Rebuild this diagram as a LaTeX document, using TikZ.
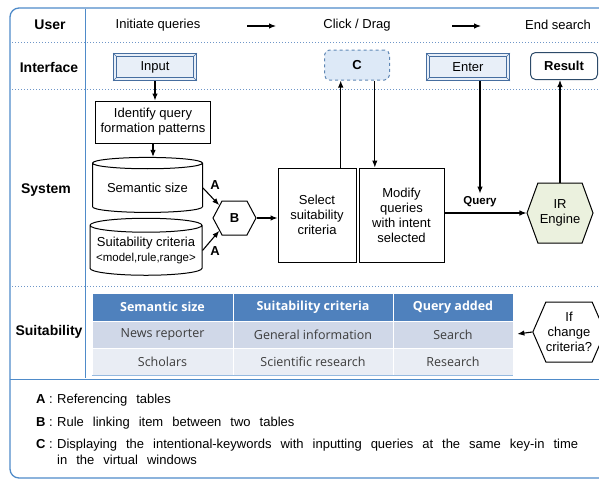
\documentclass[tikz,border=0pt]{standalone}
\usepackage{fontspec}
\setmainfont{Liberation Sans}
\newfontfamily\tabfont{Open Sans}
\usetikzlibrary{shapes.geometric,shapes.symbols,calc,arrows.meta}
\definecolor{frameblue}{RGB}{79,139,201}
\definecolor{dotblue}{RGB}{110,150,200}
\definecolor{boxedge}{RGB}{70,110,160}
\definecolor{boxfill}{RGB}{232,239,248}
\definecolor{cedge}{RGB}{95,135,180}
\definecolor{cfill}{RGB}{221,233,247}
\definecolor{redge}{RGB}{45,75,105}
\definecolor{irfill}{RGB}{235,241,222}
\definecolor{thead}{RGB}{79,129,189}
\definecolor{rowa}{RGB}{208,216,232}
\definecolor{rowb}{RGB}{233,237,244}
\definecolor{celltext}{RGB}{60,60,60}
\newcommand{\notefont}{\fontsize{13}{16.5}\selectfont\spaceskip=9pt plus 3pt minus 1pt\relax}

\begin{document}
\begin{tikzpicture}[x=1pt,y=-1pt,
	every node/.style={inner sep=0pt, font=\fontsize{13}{15}\selectfont},
	rowlabel/.style={font=\fontsize{14}{16}\selectfont\bfseries},
	bold/.style={font=\fontsize{13}{15}\selectfont\bfseries},
	arr/.style={-{Latex[length=7pt,width=5.5pt]}, line width=1.1pt},
	sepline/.style={draw=dotblue, dotted, line width=1pt},
	dbox/.style={draw=boxedge, line width=1pt, fill=boxfill, minimum width=83, minimum height=27},
	pbox/.style={draw, line width=1pt, fill=white, align=center},
	db/.style={cylinder, shape border rotate=90, draw, line width=1pt, fill=white, aspect=0.14, align=center},
	hexa/.style={signal, signal to=east and west, draw, line width=1pt, fill=white, align=center},
	hcell/.style={fill=thead, draw=white, line width=0.8pt, text=white, minimum height=28, font=\tabfont\fontsize{12.5}{14}\selectfont\bfseries},
	cell/.style={draw=white, line width=0.8pt, text=celltext, minimum height=27, font=\tabfont\fontsize{12.5}{14}\selectfont},
	note/.style={font=\notefont}
	]
	\useasboundingbox (0,0) rectangle (599,482);
	\draw[frameblue, line width=1.3pt, rounded corners=9pt] (10,8) rectangle (650,478);
	\draw[frameblue, line width=0.9pt] (85,9) -- (85,378);
	\draw[frameblue, line width=1pt] (10,379) -- (599,379);
	\draw[sepline] (12,42) -- (599,42);
	\draw[sepline] (12,89) -- (599,89);
	\draw[sepline] (12,286) -- (599,286);

	\node[rowlabel] (user) at (50,25) {User};
	\node[rowlabel] (iface) at (49,67) {Interface};
	\node[rowlabel] (sys) at (46,190) {System};
	\node[rowlabel] (suit) at (49,332) {Suitability};

	\node (init) at (158,25) {Initiate queries};
	\node (click) at (357,25) {Click / Drag};
	\node (endsearch) at (558,25) {End search};
	\coordinate (u1) at (247,26);
	\coordinate (u2) at (276,26);
	\coordinate (u3) at (452,26);
	\coordinate (u4) at (481,26);
	\draw[arr] (u1) -- (u2);
	\draw[arr] (u3) -- (u4);

	\node[dbox] (input) at (155,67) {Input};
	\node[bold, draw=cedge, dashed, fill=cfill, line width=1pt, rounded corners=5pt, minimum width=65, minimum height=30] (C) at (357,65) {C};
	\node[dbox] (enter) at (468,67) {Enter};
	\node[bold, draw=redge, line width=1pt, rounded corners=5pt, minimum width=67, minimum height=27] (result) at (564,66) {Result};
	\foreach \b in {input,enter} {
		\draw[boxedge, line width=0.8pt] ([shift={(3.5,3.5)}]\b.north west) rectangle ([shift={(-3.5,-3.5)}]\b.south east);
		\draw[boxedge, line width=0.6pt] (\b.north west) -- ++(3.5,3.5) (\b.north east) -- ++(-3.5,3.5)
			(\b.south west) -- ++(3.5,-3.5) (\b.south east) -- ++(-3.5,-3.5);
	}

	\node[pbox, minimum width=115, minimum height=42] (ident) at (153,122) {Identify query\\formation patterns};
	\node[db, minimum width=110, minimum height=55] (sem) at (147.5,188) {Semantic size};
	\node[db, minimum width=112, minimum height=57] (crit) at (146,250.5) {Suitability criteria\\{\fontsize{11.5}{13}\selectfont<model,rule,range>}};
	\node[hexa, bold, minimum width=43, minimum height=34, signal pointer angle=124] (B) at (234.5,218) {B};
	\node[bold] (a1) at (215,185) {A};
	\node[bold] (a2) at (215,251) {A};
	\node[pbox, minimum width=78, minimum height=94] (select) at (317,215) {Select\\suitability\\criteria};
	\node[pbox, minimum width=85, minimum height=94] (modify) at (401.5,215) {Modify\\queries\\with intent\\selected};
	\node[hexa, fill=irfill, minimum width=66, minimum height=60, signal pointer angle=140] (ir) at (560,213) {IR\\Engine};
	\node[font=\fontsize{11.5}{13}\selectfont\bfseries] (query) at (480,202) {Query};

	\draw[arr] (input.south) -- (input.south |- ident.north);
	\draw[arr] (ident.south) -- (ident.south |- sem.north);
	\draw[arr] (sem.east) -- (B.140);
	\draw[arr] (crit.east) -- (B.220);
	\draw[arr] (B.east) -- (B.east -| select.west);
	\draw[arr] ($(select.north west)!.8!(select.north east)$) coordinate (s1) -- (s1 |- C.south);
	\draw[arr] ($(C.south west)!.77!(C.south east)$) coordinate (c1) -- (c1 |- modify.north);
	\draw[arr, shorten >=3pt] (enter.south -| query.north) -- (query.north);
	\draw[arr] (ir.west -| modify.east) -- (ir.west);
	\draw[arr] (ir.north) -- (ir.north |- result.south);

	\node[hcell, minimum width=141] (h1) at (162.5,307) {Semantic size};
	\node[hcell, minimum width=160] (h2) at (313,307) {Suitability criteria};
	\node[hcell, minimum width=120] (h3) at (453,307) {Query added};
	\node[cell, fill=rowa, minimum width=141] (r11) at (162.5,334.5) {News reporter};
	\node[cell, fill=rowa, minimum width=160] (r12) at (313,334.5) {General information};
	\node[cell, fill=rowa, minimum width=120] (r13) at (453,334.5) {Search};
	\node[cell, fill=rowb, minimum width=141] (r21) at (162.5,361.5) {Scholars};
	\node[cell, fill=rowb, minimum width=160] (r22) at (313,361.5) {Scientific research};
	\node[cell, fill=rowb, minimum width=120] (r23) at (453,361.5) {Research};
	\draw[frameblue!60, line width=1pt] (r21.south west) -- (r23.south east);
	\node[hexa, minimum width=64, minimum height=60, signal pointer angle=133] (ifc) at (569,332) {If\\change\\criteria?};
	\draw[arr, shorten >=4pt] (ifc.west) -- (r13.east);

	\node[anchor=base west] (ka) at (36,403) {\textbf{A} :};
	\node[note, anchor=base west] (ta) at (57,403) {Referencing tables};
	\node[anchor=base west] (kb) at (36,426) {\textbf{B} :};
	\node[note, anchor=base west] (tb) at (57,426) {Rule linking item between two tables};
	\node[anchor=base west] (kc) at (36,448) {\textbf{C} :};
	\node[note, anchor=base west, text width=521, align=justify] (tc) at (57,448) {Displaying the intentional-keywords with inputting queries at the same key-in time\linebreak in the virtual windows};
\end{tikzpicture}
\end{document}
